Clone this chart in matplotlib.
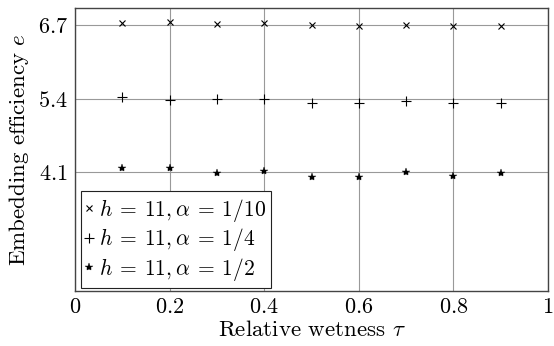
import numpy as np
import matplotlib
matplotlib.use("Agg")
import matplotlib.pyplot as plt

plt.rcParams['font.family'] = 'cmr10'
plt.rcParams['mathtext.fontset'] = 'cm'
plt.rcParams['axes.formatter.use_mathtext'] = True

tau = [0.1, 0.2, 0.3, 0.4, 0.5, 0.6, 0.7, 0.8, 0.9]
e_a10 = [6.74, 6.75, 6.72, 6.73, 6.70, 6.69, 6.70, 6.69, 6.69]
e_a4 = [5.42, 5.38, 5.40, 5.40, 5.32, 5.32, 5.35, 5.32, 5.32]
e_a2 = [4.17, 4.18, 4.09, 4.12, 4.02, 4.01, 4.10, 4.03, 4.08]

xticks = [0, 0.2, 0.4, 0.6, 0.8, 1]
xlabels = ['$0$', '$0.2$', '$0.4$', '$0.6$', '$0.8$', '$1$']
yticks = [4.1, 5.4, 6.7]
ylabels = ['$4.1$', '$5.4$', '$6.7$']

fig = plt.figure(figsize=(5.54, 3.46), dpi=100)
ax = fig.add_axes([75 / 554, 1 - 291 / 346, 473 / 554, 283 / 346])

ax.plot(tau, e_a10, 'x', color='k', ms=5, mew=0.8, label=r'$h\:=\:11, \alpha\:=\:1/10$')
ax.plot(tau, e_a4, '+', color='k', ms=7, mew=0.8, label=r'$h\:=\:11, \alpha\:=\:1/4$')
ax.plot(tau, e_a2, '*', color='k', ms=6, mew=0.3, label=r'$h\:=\:11, \alpha\:=\:1/2$')

ax.set_xlim(0, 1)
ax.set_ylim(2, 7)
ax.set_xticks(xticks)
ax.set_xticklabels(xlabels)
ax.set_yticks(yticks)
ax.set_yticklabels(ylabels)
ax.tick_params(labelsize=16, length=0, pad=5)
ax.grid(True, color='#999999', lw=0.8)
ax.set_axisbelow(True)
for s in ax.spines.values():
    s.set_color('#444444')
    s.set_linewidth(1)

ax.set_xlabel(r'Relative wetness $\tau$', fontsize=16.5, labelpad=2)
ax.set_ylabel(r'Embedding efficiency $e$', fontsize=16.5, labelpad=5)

leg = ax.legend(loc='lower left', bbox_to_anchor=(0.012, 0.01), fontsize=15.5,
                handlelength=0.3, handletextpad=0.3, borderpad=0.25,
                labelspacing=0.12, fancybox=False, framealpha=1, borderaxespad=0)
leg.get_frame().set_edgecolor('#222222')
leg.get_frame().set_linewidth(0.8)

fig.savefig('out.png', dpi=100)
